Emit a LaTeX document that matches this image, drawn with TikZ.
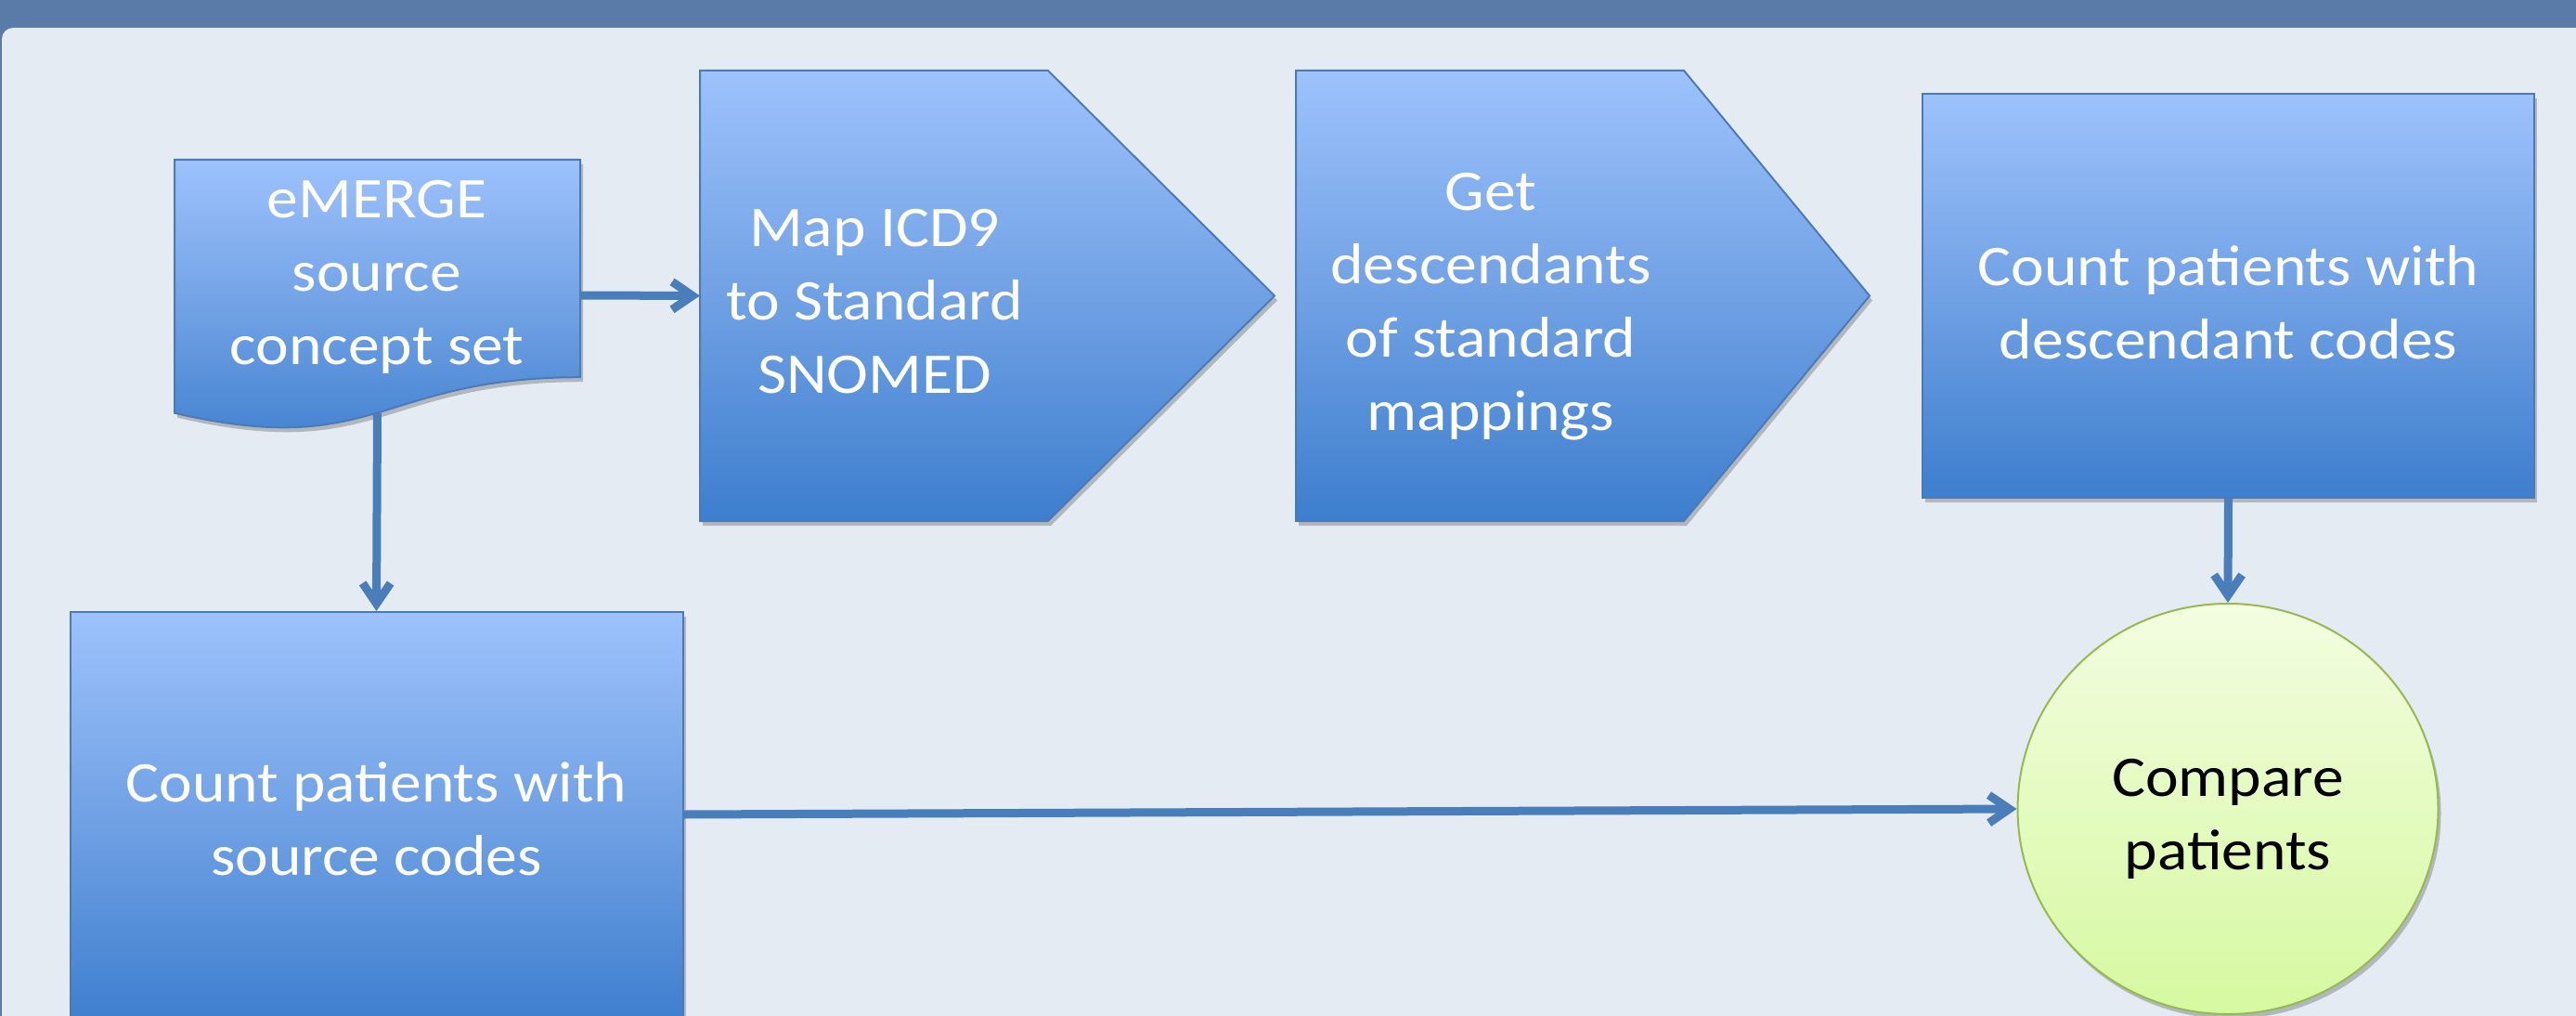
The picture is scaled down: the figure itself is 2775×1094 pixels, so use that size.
\documentclass[tikz,border=0pt]{standalone}
\usepackage{fontspec}
\setmainfont{Carlito}[FakeStretch=1.09]
\usetikzlibrary{shapes.geometric,arrows.meta,shadows}
\definecolor{barblue}{RGB}{90,123,168}
\definecolor{panelbg}{RGB}{229,235,242}
\definecolor{topblue}{RGB}{157,194,252}
\definecolor{midblue}{RGB}{112,161,228}
\definecolor{botblue}{RGB}{61,126,206}
\definecolor{edgeblue}{RGB}{76,122,184}
\definecolor{arrowblue}{RGB}{74,126,187}
\definecolor{topgreen}{RGB}{243,253,224}
\definecolor{botgreen}{RGB}{214,249,160}
\definecolor{edgegreen}{RGB}{150,185,82}
\begin{document}
\begin{tikzpicture}[x=1pt,y=-1pt,
  shadowed/.style={drop shadow={shadow xshift=3pt,shadow yshift=-5pt,opacity=0.22,fill=black}},
  blueshape/.style={draw=edgeblue, line width=2pt, top color=topblue, bottom color=botblue, middle color=midblue, shadowed},
  bluetext/.style={text=white, align=center, font=\fontsize{62}{79}\selectfont, inner sep=0pt},
  flowarrow/.style={draw=arrowblue, line width=9pt, -{Straight Barb[length=22pt,width=30pt]}}
]
\useasboundingbox (0,0) rectangle (2775,1094);
% background
\fill[barblue] (0,0) rectangle (2775,1094);
\fill[panelbg, rounded corners=12pt] (2,30) rectangle (2800,1130);

% document shape
\path[blueshape] (188,172) -- (625,172) -- (625,406.2)
  .. controls (406.5,406.2) and (406.5,495.4) .. (188,444.7) -- cycle;
\node[inner sep=0pt, minimum width=437pt, minimum height=292pt] (doc) at (406.5,318) {};
\node[bluetext] (doctext) at (406,298) {eMERGE\\source\\concept set};
\coordinate (docb) at (406.5,444.5);

% pentagon 1
\path[blueshape] (754,76) -- (1129,76) -- (1373,318.5) -- (1129,561) -- (754,561) -- cycle;
\node[bluetext] (p1) at (942,325) {Map ICD9\\to Standard\\SNOMED};
\coordinate (p1in) at (754,318.5);

% pentagon 2
\path[blueshape] (1396,76) -- (1814,76) -- (2014,318.5) -- (1814,561) -- (1396,561) -- cycle;
\node[bluetext] (p2) at (1606,330) {Get\\descendants\\of standard\\mappings};

% rectangle 3
\node[blueshape, rectangle, minimum width=659pt, minimum height=435pt, inner sep=0pt] (r3) at (2400.5,318.5) {};
\node[bluetext] (r3text) at (2400.5,325.5) {Count patients with\\descendant codes};

% rectangle 4
\node[blueshape, rectangle, minimum width=660pt, minimum height=446pt, bluetext] (r4) at (405.5,882) {Count patients with\\source codes};

% ellipse
\node[ellipse, draw=edgegreen, line width=2pt, top color=topgreen, bottom color=botgreen, shadowed,
  minimum width=453pt, minimum height=442pt, inner sep=0pt] (cmp) at (2400,871) {};
\node[align=center, inner sep=0pt, text depth=0pt, font=\fontsize{62}{79}\selectfont, text=black] (cmptext) at (2400,877) {Compare\\patients};

% connectors
\draw[flowarrow] (doc.east) -- (p1in);
\draw[flowarrow] (docb) -- (r4.north);
\draw[flowarrow] (r3.south) -- (cmp.north);
\draw[flowarrow] ([yshift=5pt]r4.east) -- (cmp.west);
\end{tikzpicture}
\end{document}
